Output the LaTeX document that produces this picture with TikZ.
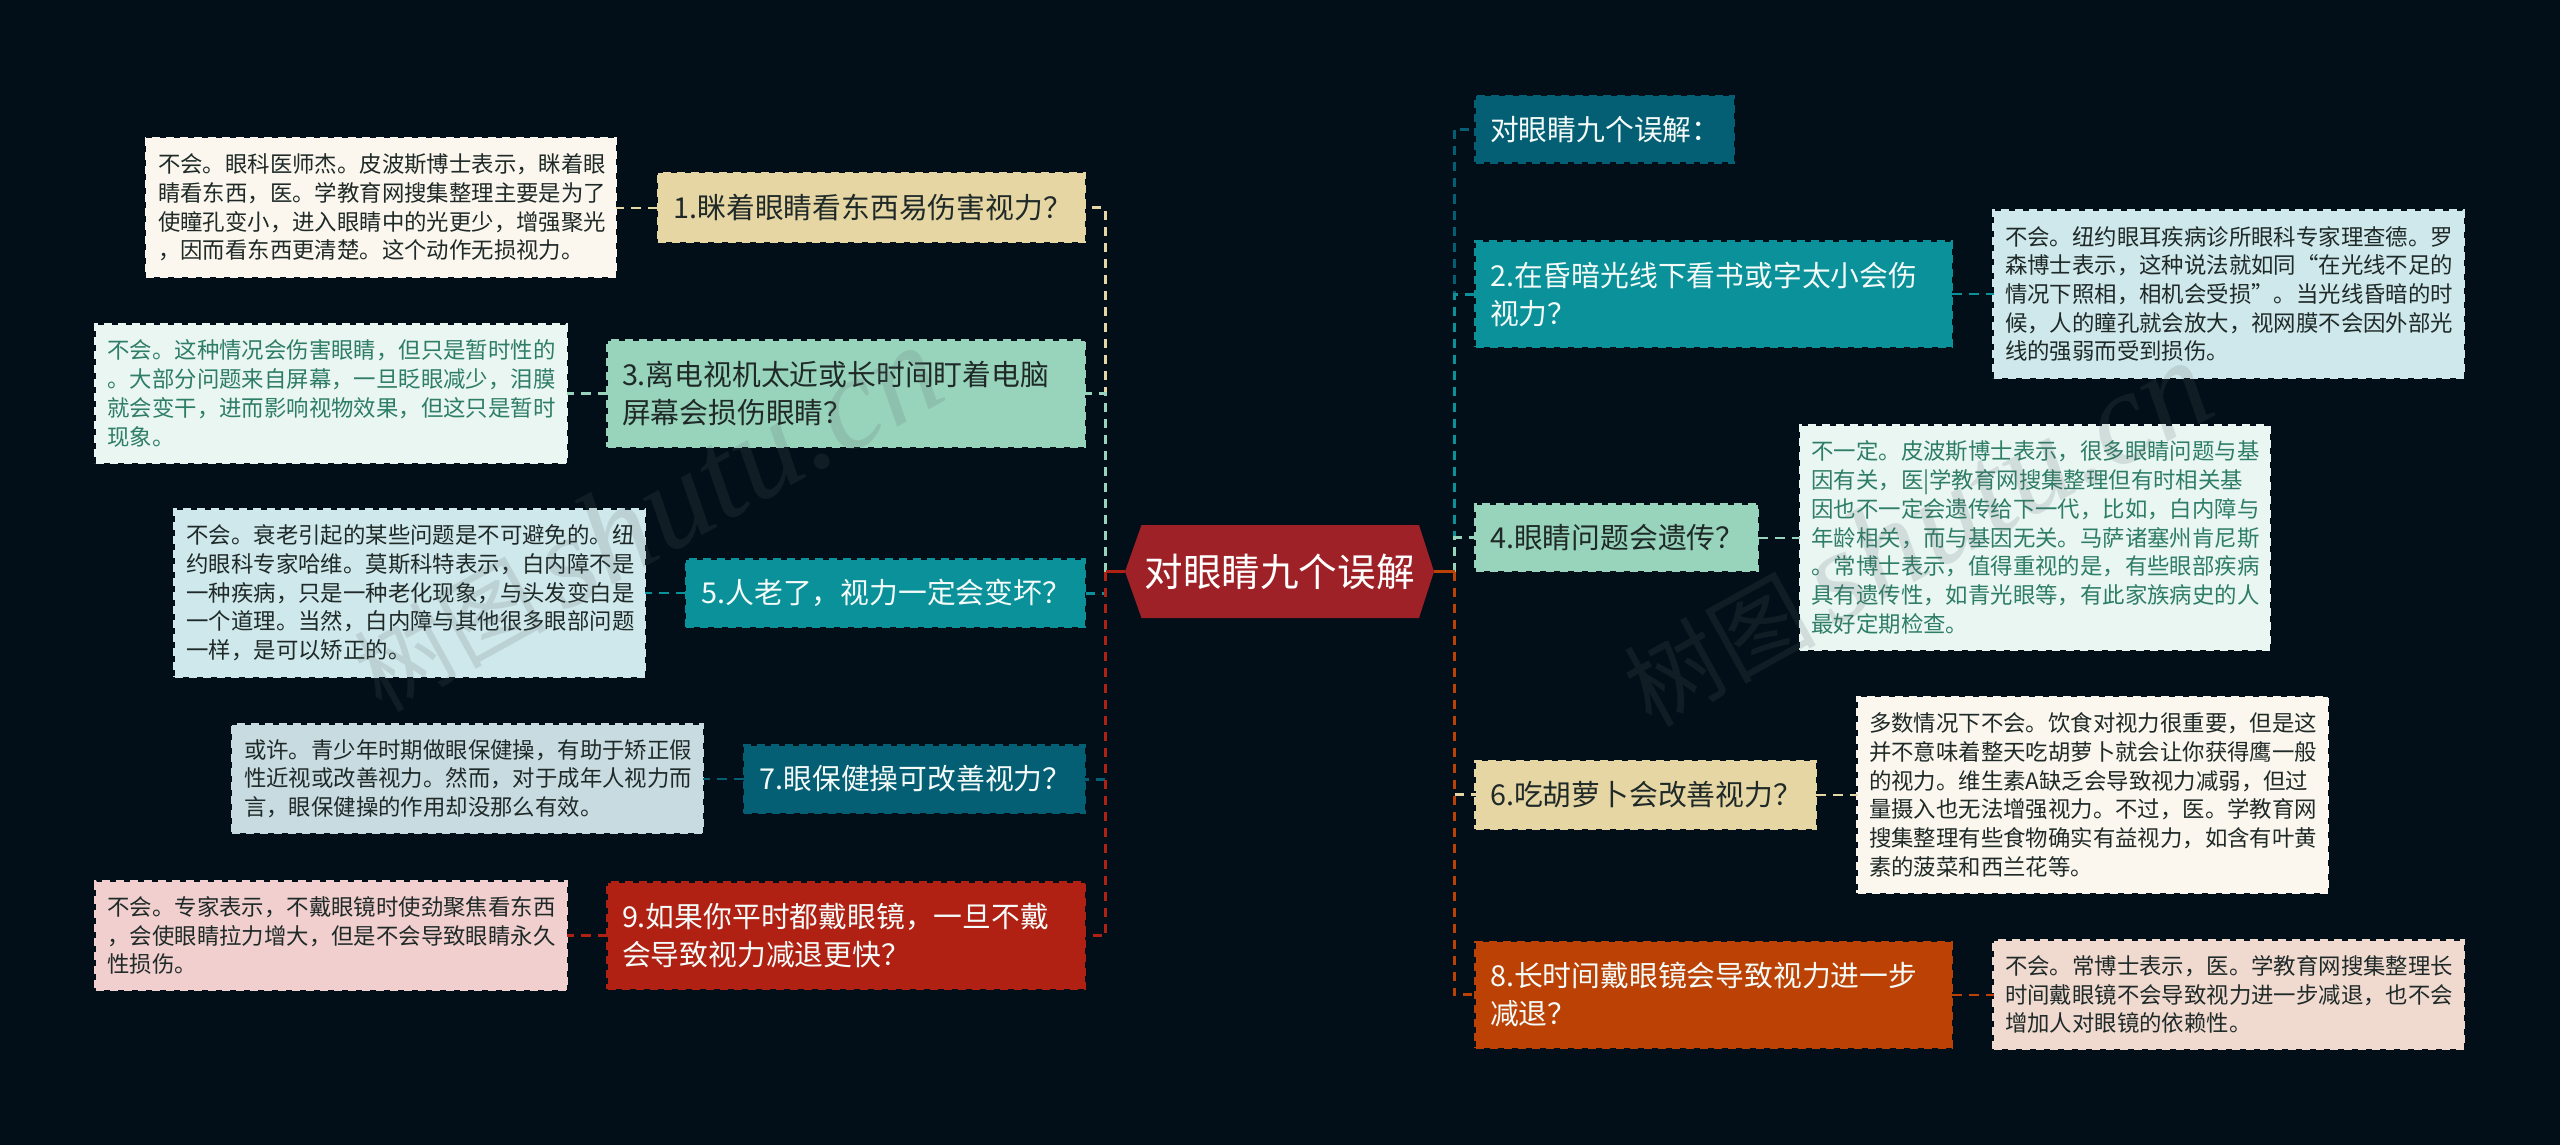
\documentclass[tikz,border=0pt]{standalone}
\usepackage{fontspec}
\newfontfamily\cjk{Noto Sans CJK SC}
\newfontfamily\wmf{Liberation Serif}
\definecolor{bgc}{HTML}{020F18}
\definecolor{ya}{HTML}{E6D6A4}\definecolor{yb}{HTML}{FBF7EE}
\definecolor{ga}{HTML}{98D3BC}\definecolor{gb}{HTML}{EAF6F2}\definecolor{gt}{HTML}{2E7D66}
\definecolor{ta}{HTML}{0A9199}\definecolor{tb}{HTML}{CFE8EB}
\definecolor{da}{HTML}{045F74}\definecolor{db}{HTML}{C8DBE1}
\definecolor{ra}{HTML}{B02114}\definecolor{rb}{HTML}{F0CFCE}
\definecolor{oa}{HTML}{BB4204}\definecolor{ob}{HTML}{F0DAD0}
\definecolor{rootc}{HTML}{9E2127}\definecolor{lightt}{HTML}{F4FBF9}\definecolor{darkt}{HTML}{1F2A28}
\definecolor{wmc}{HTML}{5A6468}
\tikzset{
  bc/.style 2 args={fill=#1,draw=#1,text=#2},
  boxbase/.style={rectangle,inner sep=0pt,outer sep=0pt,line width=1.2pt,dash pattern=on 4pt off 3pt,align=left},
  leafbox/.style={boxbase,font=\cjk\fontsize{11.2}{14.35}\selectfont},
  branchbox/.style={boxbase,font=\cjk\fontsize{14.4}{19}\selectfont},
  trunk/.style={line width=1.5pt,dash pattern=on 4.5pt off 3.5pt},
  twig/.style={line width=1.2pt,dash pattern=on 5pt off 3.5pt},
  stub/.style={line width=1.5pt},
  wm/.style={rotate=29,anchor=west,text=wmc,opacity=.17}
}
\newcommand\bx[8]{%
  \pgfmathsetmacro\cxx{(#2+#4)/2}\pgfmathsetmacro\cyy{(#3+#5)/2}%
  \pgfmathsetmacro\ww{(#4-#2-1)*0.5}\pgfmathsetmacro\hh{(#5-#3-1)*0.5}%
  \pgfmathsetmacro\tw{(#4-#2-2*#6)*0.5}%
  \node[#7,minimum width=\ww pt,minimum height=\hh pt,text width=\tw pt] (#1) at (\cxx,\cyy) {#8};%
}
\begin{document}
\begin{tikzpicture}[x=0.5pt,y=-0.5pt]
\useasboundingbox (0,0) rectangle (2560,1145);
\fill[bgc] (0,0) rectangle (2560,1145);
% central node
\fill[rootc] (1125,571.5) -- (1141.5,525) -- (1419,525) -- (1434,571.5) -- (1419,618) -- (1141.5,618) -- cycle;
\node[inner sep=0pt,outer sep=0pt,minimum width=154.5pt,minimum height=46.5pt,text=white,font=\cjk\fontsize{19.3}{23}\selectfont] (root) at (1279.5,571.5) {对眼睛九个误解};
\coordinate (lv) at (1105.5,571.5);
\coordinate (rv) at (1454.5,571.5);
% left branches
\bx{b1}{657.5}{173}{1085.5}{242.5}{16}{branchbox,bc={ya}{darkt}}{1.眯着眼睛看东西易伤害视力？}
\bx{b3}{607}{340}{1085.5}{447}{15}{branchbox,bc={ga}{darkt}}{3.离电视机太近或长时间盯着电脑\\屏幕会损伤眼睛？}
\bx{b5}{685.5}{559}{1085.5}{627}{16}{branchbox,bc={ta}{lightt}}{5.人老了，视力一定会变坏？}
\bx{b7}{743.5}{745}{1085.5}{813}{16}{branchbox,bc={da}{lightt}}{7.眼保健操可改善视力？}
\bx{b9}{607}{882}{1085.5}{989}{15}{branchbox,bc={ra}{lightt}}{9.如果你平时都戴眼镜，一旦不戴\\会导致视力减退更快？}
% left leaves
\bx{l1}{145.5}{138}{616.5}{277}{12.5}{leafbox,bc={yb}{darkt}}{不会。眼科医师杰。皮波斯博士表示，眯着眼\\睛看东西，医。学教育网搜集整理主要是为了\\使瞳孔变小，进入眼睛中的光更少，增强聚光\\，因而看东西更清楚。这个动作无损视力。}
\bx{l3}{95}{324}{567}{463}{12.5}{leafbox,bc={gb}{gt}}{不会。这种情况会伤害眼睛，但只是暂时性的\\。大部分问题来自屏幕，一旦眨眼减少，泪膜\\就会变干，进而影响视物效果，但这只是暂时\\现象。}
\bx{l5}{174}{509}{645.5}{677}{12.5}{leafbox,bc={tb}{darkt}}{不会。衰老引起的某些问题是不可避免的。纽\\约眼科专家哈维。莫斯科特表示，白内障不是\\一种疾病，只是一种老化现象，与头发变白是\\一个道理。当然，白内障与其他很多眼部问题\\一样，是可以矫正的。}
\bx{l7}{231.5}{724}{703}{833}{12.5}{leafbox,bc={db}{darkt}}{或许。青少年时期做眼保健操，有助于矫正假\\性近视或改善视力。然而，对于成年人视力而\\言，眼保健操的作用却没那么有效。}
\bx{l9}{95}{881}{567}{990}{12.5}{leafbox,bc={rb}{darkt}}{不会。专家表示，不戴眼镜时使劲聚焦看东西\\，会使眼睛拉力增大，但是不会导致眼睛永久\\性损伤。}
% right branches
\bx{b0}{1475}{95.5}{1734.5}{163}{15}{branchbox,bc={da}{lightt}}{对眼睛九个误解：}
\bx{b2}{1475}{241}{1952}{347.5}{15}{branchbox,bc={ta}{lightt}}{2.在昏暗光线下看书或字太小会伤\\视力？}
\bx{b4}{1475}{504}{1758}{571.5}{15}{branchbox,bc={ga}{darkt}}{4.眼睛问题会遗传？}
\bx{b6}{1475}{760.5}{1816.5}{829}{15}{branchbox,bc={ya}{darkt}}{6.吃胡萝卜会改善视力？}
\bx{b8}{1475}{941.5}{1952}{1048}{15}{branchbox,bc={oa}{lightt}}{8.长时间戴眼镜会导致视力进一步\\减退？}
% right leaves
\bx{l2}{1993}{210}{2464}{378}{12}{leafbox,bc={tb}{darkt}}{不会。纽约眼耳疾病诊所眼科专家理查德。罗\\森博士表示，这种说法就如同“在光线不足的\\情况下照相，相机会受损”。当光线昏暗的时\\候，人的瞳孔就会放大，视网膜不会因外部光\\线的强弱而受到损伤。}
\bx{l4}{1799.5}{425}{2270.5}{650}{12}{leafbox,bc={gb}{gt}}{不一定。皮波斯博士表示，很多眼睛问题与基\\因有关，医|学教育网搜集整理但有时相关基\\因也不一定会遗传给下一代，比如，白内障与\\年龄相关，而与基因无关。马萨诸塞州肯尼斯\\。常博士表示，值得重视的是，有些眼部疾病\\具有遗传性，如青光眼等，有此家族病史的人\\最好定期检查。}
\bx{l6}{1857}{696.5}{2328.5}{893.5}{12}{leafbox,bc={yb}{darkt}}{多数情况下不会。饮食对视力很重要，但是这\\并不意味着整天吃胡萝卜就会让你获得鹰一般\\的视力。维生素A缺乏会导致视力减弱，但过\\量摄入也无法增强视力。不过，医。学教育网\\搜集整理有些食物确实有益视力，如含有叶黄\\素的菠菜和西兰花等。}
\bx{l8}{1993}{940}{2464}{1049}{12}{leafbox,bc={ob}{darkt}}{不会。常博士表示，医。学教育网搜集整理长\\时间戴眼镜不会导致视力进一步减退，也不会\\增加人对眼镜的依赖性。}
% twigs
\draw[twig,ya] (b1.west) -- (b1.west -| l1.east);
\draw[twig,ga] (b3.west) -- (b3.west -| l3.east);
\draw[twig,ta] (b5.west) -- (b5.west -| l5.east);
\draw[twig,da] (b7.west) -- (b7.west -| l7.east);
\draw[twig,ra] (b9.west) -- (b9.west -| l9.east);
\draw[twig,ta] (b2.east) -- (b2.east -| l2.west);
\draw[twig,ga] (b4.east) -- (b4.east -| l4.west);
\draw[twig,ya] (b6.east) -- (b6.east -| l6.west);
\draw[twig,oa] (b8.east) -- (b8.east -| l8.west);
% trunks left
\draw[trunk,ya] (lv) -- (lv |- b1.east) -- (b1.east);
\draw[trunk,ga] (lv) -- (lv |- b3.east) -- (b3.east);
\draw[trunk,ta] (lv) -- (lv |- b5.east) -- (b5.east);
\draw[trunk,da] (lv) -- (lv |- b7.east) -- (b7.east);
\draw[trunk,ra] (lv) -- (lv |- b9.east) -- (b9.east);
% trunks right
\draw[trunk,da] (rv) -- (rv |- b0.west) -- (b0.west);
\draw[trunk,ta] (rv) -- (rv |- b2.west) -- (b2.west);
\draw[trunk,ga] (rv) -- (rv |- b4.west) -- (b4.west);
\draw[trunk,ya] (rv) -- (rv |- b6.west) -- (b6.west);
\draw[trunk,oa] (rv) -- (rv |- b8.west) -- (b8.west);
% root stubs
\draw[stub,ra] (root.west) -- (lv);
\draw[stub,oa] (root.east) -- (rv);
% watermarks
\node[wm] (wm1) at (355,680) {{\cjk\fontsize{48}{50}\selectfont 树图\,}{\wmf\itshape\fontsize{66}{66}\selectfont shutu.cn}};
\node[wm] (wm2) at (1625,695) {{\cjk\fontsize{48}{50}\selectfont 树图\,}{\wmf\itshape\fontsize{66}{66}\selectfont shutu.cn}};
\end{tikzpicture}
\end{document}
